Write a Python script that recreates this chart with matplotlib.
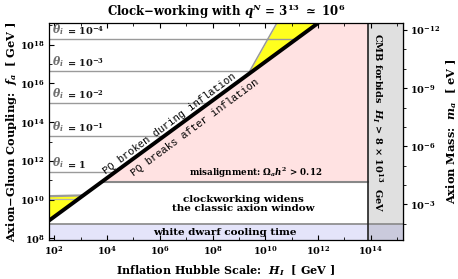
import numpy as np
import matplotlib
matplotlib.use("Agg")
import matplotlib.pyplot as plt
from matplotlib.ticker import FixedLocator, NullFormatter

plt.rcParams['font.family'] = ['DejaVu Serif']
plt.rcParams['font.weight'] = 'bold'
plt.rcParams['mathtext.fontset'] = 'custom'
plt.rcParams['mathtext.rm'] = 'DejaVu Serif:bold'
plt.rcParams['mathtext.it'] = 'DejaVu Serif:italic:bold'
plt.rcParams['mathtext.bf'] = 'DejaVu Serif:bold'

# ---- data (log10 values) ----
H_range = [10**1.8, 10**15.22]          # x-axis limits (GeV)
fa_range = [10**7.92, 10**19.13]        # y-axis limits (GeV)
pq_ratio = 10**7.12                     # f_a / H_I along the PQ line
cmb_H = 8e13                            # CMB bound on H_I
misalign_fa = 10**10.93                 # misalignment bound
wd_fa = 10**8.73                        # white dwarf cooling bound
theta_values = [r'$\mathbf{1}$', r'$\mathbf{10^{-1}}$', r'$\mathbf{10^{-2}}$',
                r'$\mathbf{10^{-3}}$', r'$\mathbf{10^{-4}}$']
theta_fa = [10**11.44, 10**13.28, 10**14.97, 10**16.67, 10**18.31]
upper_gray_H = [10**9.33, 10**10.44]
upper_gray_fa = [10**16.45, 10**19.13]
lower_gray_H = [10**1.8, 10**3.06]
lower_gray_fa = [10**10.18, 10**10.22]
lower_inner_fa = 10**10.03
mass_coef = 5.7e6                       # m_a[eV] = mass_coef / f_a[GeV]
x_major = [1e2, 1e4, 1e6, 1e8, 1e10, 1e12, 1e14]
x_labels = [r'$10^{2}$', r'$10^{4}$', r'$10^{6}$', r'$10^{8}$', r'$10^{10}$', r'$10^{12}$', r'$10^{14}$']
y_major = [1e8, 1e10, 1e12, 1e14, 1e16, 1e18]
y_labels = [r'$10^{8}$', r'$10^{10}$', r'$10^{12}$', r'$10^{14}$', r'$10^{16}$', r'$10^{18}$']
m_major = [1e-12, 1e-9, 1e-6, 1e-3]
m_labels = [r'$10^{-12}$', r'$10^{-9}$', r'$10^{-6}$', r'$10^{-3}$']

PINK = '#FFE2E2'
YELLOW = '#FFFF1E'
LAV = '#E4E4FA'
CMBGRAY = '#E0E0E0'
LINEGRAY = '#9A9A9A'

fig = plt.figure(figsize=(4.58, 2.79), dpi=100)
ax = fig.add_axes([0.107, 0.14, 0.773, 0.778])
ax.set_xscale('log')
ax.set_yscale('log')
ax.set_xlim(H_range)
ax.set_ylim(fa_range)

ftop = fa_range[1]
fbot = fa_range[0]

# pink: PQ breaks after inflation, misalignment overproduction
H_cross = misalign_fa / pq_ratio
Hp = np.logspace(np.log10(H_cross), np.log10(cmb_H), 400)
ax.fill_between(Hp, misalign_fa, np.minimum(Hp * pq_ratio, ftop), color=PINK, lw=0, zorder=1)

# white dwarf band
ax.fill_between(H_range, fbot, wd_fa, color=LAV, lw=0, zorder=1)

# CMB band
ax.fill_between([cmb_H, H_range[1]], fbot, ftop, color=CMBGRAY, lw=0, zorder=1)
ax.fill_between([cmb_H, H_range[1]], fbot, wd_fa, color='#CACADC', lw=0, zorder=1.1)

# upper yellow region
gslope = np.log10(upper_gray_fa[1] / upper_gray_fa[0]) / np.log10(upper_gray_H[1] / upper_gray_H[0])
Hy = np.logspace(np.log10(upper_gray_H[0]), np.log10(ftop / pq_ratio), 400)
gray_up = upper_gray_fa[0] * (Hy / upper_gray_H[0]) ** gslope
ax.fill_between(Hy, Hy * pq_ratio, np.minimum(gray_up, ftop), color=YELLOW, lw=0, zorder=1.5)
ax.plot(upper_gray_H, upper_gray_fa, color=LINEGRAY, lw=1.1, zorder=2)

# lower yellow region
Hl = np.logspace(np.log10(lower_gray_H[0]), np.log10(lower_gray_H[1]), 200)
lslope = np.log10(lower_gray_fa[1] / lower_gray_fa[0]) / np.log10(lower_gray_H[1] / lower_gray_H[0])
low_top = lower_gray_fa[0] * (Hl / lower_gray_H[0]) ** lslope
ax.fill_between(Hl, np.minimum(Hl * pq_ratio, low_top), low_top, color=YELLOW, lw=0, zorder=1.5)
ax.plot(lower_gray_H, lower_gray_fa, color=LINEGRAY, lw=1.6, zorder=2)
ax.plot([H_range[0], lower_inner_fa / pq_ratio], [lower_inner_fa, lower_inner_fa],
        color='#B0B0B0', lw=0.9, zorder=2)

# theta lines
for val, f in zip(theta_values, theta_fa):
    ax.plot([H_range[0], f / pq_ratio], [f, f], color=LINEGRAY, lw=1.0, zorder=2)
    ax.text(10**1.93, f * 10**0.1, r'$\theta_i$', fontsize=7.8, color='#6E6E6E',
            ha='left', va='bottom', zorder=3)
    ax.text(10**2.47, f * 10**0.1, '= ' + val, fontsize=7, color='#111111',
            ha='left', va='bottom', zorder=3)

# misalignment line
ax.plot([H_cross, cmb_H], [misalign_fa, misalign_fa], color='#888888', lw=1.5, zorder=2)
# white dwarf line
ax.plot(H_range, [wd_fa, wd_fa], color='#888888', lw=1.2, zorder=2)
# CMB boundary
ax.plot([cmb_H, cmb_H], [fbot, ftop], color='#222222', lw=1.2, zorder=3)

# PQ line
Hpq = np.array([H_range[0], ftop / pq_ratio])
ax.plot(Hpq, Hpq * pq_ratio, color='black', lw=2.8, zorder=4, solid_capstyle='butt')

# texts
mono = ['Liberation Mono', 'DejaVu Sans Mono']
ax.text(10**6.37, 10**13.9, 'PQ broken during inflation', family=mono, fontweight='normal',
        fontsize=7.6, rotation=36.5, ha='center', va='center', rotation_mode='anchor', zorder=5)
ax.text(10**7.32, 10**13.74, 'PQ breaks after inflation', family=mono, fontweight='normal',
        fontsize=7.6, rotation=36.5, ha='center', va='center', rotation_mode='anchor', zorder=5)
ax.text(10**12.15, 10**11.0, r'misalignment: $\Omega_a h^2$ > 0.12', fontsize=6.3,
        ha='right', va='bottom', zorder=5)
ax.text(10**9.15, 10**9.78, 'clockworking widens\nthe classic axion window', fontsize=7.5,
        ha='center', va='center', linespacing=0.95, zorder=5)
ax.text(10**8.46, 10**8.3, 'white dwarf cooling time', fontsize=7.5,
        ha='center', va='center', zorder=5)
ax.text(10**14.25, 10**14.0, r'CMB forbids  $H_I$ > 8 $\times$ $10^{13}$  GeV', fontsize=7,
        rotation=270, ha='center', va='center', zorder=5)

# ticks
ax.xaxis.set_major_locator(FixedLocator(x_major))
ax.set_xticklabels(x_labels)
ax.xaxis.set_minor_locator(FixedLocator([10.0**k for k in range(3, 16, 2)]))
ax.xaxis.set_minor_formatter(NullFormatter())
ax.yaxis.set_major_locator(FixedLocator(y_major))
ax.set_yticklabels(y_labels)
ax.yaxis.set_minor_locator(FixedLocator([10.0**k for k in range(9, 20, 2)]))
ax.yaxis.set_minor_formatter(NullFormatter())
ax.tick_params(which='both', direction='in', top=True, right=False, labelsize=7, pad=3)
ax.tick_params(which='major', length=3.5, width=0.8)
ax.tick_params(which='minor', length=2, width=0.6)
for s in ax.spines.values():
    s.set_linewidth(0.9)
    s.set_zorder(6)

sec = ax.secondary_yaxis('right', functions=(lambda f: mass_coef / f, lambda m: mass_coef / m))
sec.yaxis.set_major_locator(FixedLocator(m_major))
sec.set_yticklabels(m_labels)
sec.yaxis.set_minor_locator(FixedLocator([10.0**k for k in range(-13, 0)]))
sec.yaxis.set_minor_formatter(NullFormatter())
sec.tick_params(which='both', direction='out', labelsize=7, pad=2)
sec.tick_params(which='major', length=3, width=0.8)
sec.tick_params(which='minor', length=1.8, width=0.6)
sec.set_ylabel(r'Axion Mass:  $m_a$  [ eV ]', fontsize=8.2, fontweight='bold', labelpad=3)

ax.set_xlabel(r'Inflation Hubble Scale:  $H_I$  [ GeV ]', fontsize=8, fontweight='bold', labelpad=5)
ax.set_ylabel(r'Axion$-$Gluon Coupling:  $f_a$  [ GeV ]', fontsize=8.2, fontweight='bold', labelpad=1)
ax.set_title(r'Clock$-$working with $q^N$ = $3^{13}$ $\simeq$ $10^6$', fontsize=8.5,
             fontweight='bold', pad=5)

fig.savefig('out.png', dpi=100)
